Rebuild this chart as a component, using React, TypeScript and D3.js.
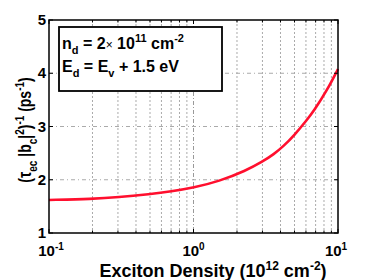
import React from "react";
import * as d3 from "d3";

// exciton density (1e12 cm^-2) and rate (ps^-1)
const density = [0.1, 0.2, 0.3, 0.5, 0.7, 1, 1.5, 2.3, 3, 3.6, 4.2, 5, 6, 6.8, 8.4, 10];
const rate = [1.62, 1.64, 1.67, 1.73, 1.78, 1.85, 1.97, 2.17, 2.34, 2.48, 2.63, 2.84, 3.1, 3.29, 3.68, 4.08];

const yTicks = [1, 2, 3, 4, 5];
const xMajor = [0.1, 1, 10];
const xMinor = [0.2, 0.3, 0.4, 0.5, 0.6, 0.7, 0.8, 0.9, 2, 3, 4, 5, 6, 7, 8, 9];
const xExp = ["-1", "0", "1"];

const width = 374;
const height = 280;
const margin = { top: 20, right: 36, bottom: 47, left: 49 };
const font = "Arial, 'Liberation Sans', sans-serif";

const App = () => {
  const x = d3
    .scaleLog()
    .domain([0.1, 10])
    .range([margin.left, width - margin.right]);
  const y = d3
    .scaleLinear()
    .domain([1, 5])
    .range([height - margin.bottom, margin.top]);

  const pts = density.map((d, i) => [d, rate[i]] as [number, number]);
  const line = d3
    .line<[number, number]>()
    .x((d) => x(d[0]))
    .y((d) => y(d[1]))
    .curve(d3.curveBasis);

  const x0 = x.range()[0];
  const x1 = x.range()[1];
  const yb = y.range()[0];
  const yt = y.range()[1];

  return (
    <svg
      width={width}
      height={height}
      style={{ position: "absolute", left: 0, top: 0, background: "#fff" }}
      fontFamily={font}
      fontWeight="bold"
    >
      {/* grid */}
      {xMinor.map((v) => (
        <line key={"gx" + v} x1={x(v)} x2={x(v)} y1={yt} y2={yb}
          stroke="#aaa" strokeWidth={1} strokeDasharray="2,2" />
      ))}
      <line x1={x(1)} x2={x(1)} y1={yt} y2={yb} stroke="#999" strokeWidth={1}
        strokeDasharray="4,2,1,2" />
      {yTicks.slice(1, -1).map((v) => (
        <line key={"gy" + v} x1={x0} x2={x1} y1={y(v)} y2={y(v)}
          stroke="#aaa" strokeWidth={1} strokeDasharray="4,3,1,3" />
      ))}

      {/* curve */}
      <path d={line(pts) || ""} fill="none" stroke="#ff0f2e" strokeWidth={2.6} />

      {/* ticks */}
      {yTicks.map((v) => (
        <g key={"ty" + v}>
          <line x1={x0} x2={x0 + 4} y1={y(v)} y2={y(v)} stroke="#000" />
          <line x1={x1} x2={x1 - 4} y1={y(v)} y2={y(v)} stroke="#000" />
          <text x={x0 - 3} y={y(v) + 5} textAnchor="end" fontSize={15}>{v}</text>
        </g>
      ))}
      {xMinor.map((v) => (
        <g key={"tx" + v}>
          <line x1={x(v)} x2={x(v)} y1={yb} y2={yb - 2.5} stroke="#000" />
          <line x1={x(v)} x2={x(v)} y1={yt} y2={yt + 2.5} stroke="#000" />
        </g>
      ))}
      {xMajor.map((v, i) => (
        <g key={"txm" + v}>
          <line x1={x(v)} x2={x(v)} y1={yb} y2={yb - 4} stroke="#000" />
          <line x1={x(v)} x2={x(v)} y1={yt} y2={yt + 4} stroke="#000" />
          <text x={x(v) + (i === 0 ? 2 : i === 2 ? -2 : 0)} y={yb + 23} textAnchor="middle" fontSize={15}>
            10<tspan fontSize={10} dy={-6}>{xExp[i]}</tspan>
          </text>
        </g>
      ))}

      {/* frame */}
      <rect x={x0} y={yt} width={x1 - x0} height={yb - yt} fill="none" stroke="#000" strokeWidth={1.5} />

      {/* legend */}
      <rect x={59} y={27} width={163} height={64} fill="#fff" stroke="#000" strokeWidth={1.8} />
      <text x={62} y={49} fontSize={16}>
        n<tspan fontSize={11} dy={5}>d</tspan>
        <tspan dy={-5}> = 2</tspan>
        <tspan fontWeight="normal" fontSize={12}>×</tspan>
        <tspan> 10</tspan>
        <tspan fontSize={11} dy={-7}>11</tspan>
        <tspan dy={7}> cm</tspan>
        <tspan fontSize={11} dy={-7}>-2</tspan>
      </text>
      <text x={62} y={72} fontSize={16}>
        E<tspan fontSize={11} dy={5}>d</tspan>
        <tspan dy={-5}> = E</tspan>
        <tspan fontSize={11} dy={5}>v</tspan>
        <tspan dy={-5}> + 1.5 eV</tspan>
      </text>

      {/* axis labels */}
      <text x={213} y={277} textAnchor="middle" fontSize={18}>
        Exciton Density (10<tspan fontSize={12} dy={-7}>12</tspan>
        <tspan dy={7}> cm</tspan>
        <tspan fontSize={12} dy={-7}>-2</tspan>
        <tspan dy={7}>)</tspan>
      </text>
      <text transform="translate(31,130) rotate(-90) scale(1,1.25)" textAnchor="middle" fontSize={14}>
        (τ<tspan fontSize={10} dy={5}>ec</tspan>
        <tspan dy={-5}> |b</tspan>
        <tspan fontSize={10} dy={5}>c</tspan>
        <tspan dy={-5}>|</tspan>
        <tspan fontSize={10} dy={-6}>2</tspan>
        <tspan dy={6}>)</tspan>
        <tspan fontSize={10} dy={-6}>-1</tspan>
        <tspan dy={6}> (ps</tspan>
        <tspan fontSize={10} dy={-6}>-1</tspan>
        <tspan dy={6}>)</tspan>
      </text>
    </svg>
  );
};

export default App;
